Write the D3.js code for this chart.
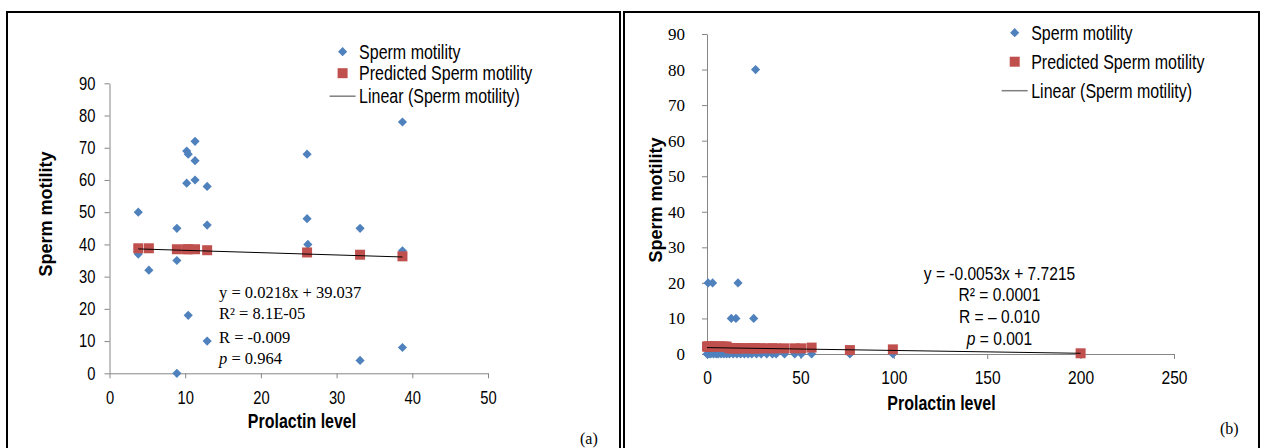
<!DOCTYPE html>
<html>
<head>
<meta charset="utf-8">
<script src="https://cdn.jsdelivr.net/npm/d3@7"></script>
<style>
body { margin: 0; background: #fff; }
svg { display: block; }
</style>
</head>
<body>
<svg width="1263" height="448"></svg>
<script>
// panel (a) - sperm motility vs prolactin
var xA = [3.8, 3.8, 5.2, 8.9, 8.9, 8.9, 10.2, 10.4, 10.2, 10.4, 11.3, 11.3, 11.3, 12.9, 12.9, 12.9, 26.1, 26.1, 26.2, 33.1, 33.1, 38.7, 38.7, 38.7];
var yA = [50, 37, 32, 45, 35, 0, 69, 68, 59, 18, 72, 66, 60, 58, 46, 10, 68, 48, 40, 45, 4, 78, 38, 8];
var predXA = [3.8, 5.2, 8.9, 10.2, 10.4, 11.3, 12.9, 26.1, 33.1, 38.7];
var predYA = [38.8, 38.8, 38.5, 38.5, 38.5, 38.5, 38.2, 37.5, 36.8, 36.3];
var trendA = [[3.8, 38.6], [38.7, 36.1]];
var eqA = ["y = 0.0218x + 39.037", "R² = 8.1E-05", "R = -0.009", "= 0.964"];
var xTicksA = [0, 10, 20, 30, 40, 50];

// panel (b)
var xB = [26, 0.6, 3, 16.6, 13, 15.5, 25,
  0, 1, 2, 3.5, 5, 6, 7.5, 9, 10.5, 12, 14, 16, 18, 20, 22, 24, 26.5, 29, 32, 35, 37, 41.5, 47, 50.5, 56, 76.5, 99.5, 200];
var yB = [80, 20, 20, 20, 10, 10, 10,
  0, 0, 0, 0, 0, 0, 0, 0, 0, 0, 0, 0, 0, 0, 0, 0, 0, 0, 0, 0, 0, 0, 0, 0, 0, 0, 0, 0];
var predXB = [0, 0.6, 1, 2, 3, 3.5, 5, 6, 7.5, 9, 10.5,
  12, 13, 14, 15.5, 16, 16.6, 18, 20, 22, 24, 25, 26, 26.5, 29, 32, 35, 37, 41.5, 47, 50.5,
  56, 76.5, 99.5, 200];
var predYB = [2.1, 2.1, 2.1, 2.1, 2.1, 2.1, 2.1, 2.1, 2.1, 2.1, 2.1,
  1.6, 1.6, 1.6, 1.6, 1.6, 1.6, 1.6, 1.6, 1.6, 1.6, 1.6, 1.6, 1.6, 1.6, 1.6, 1.6, 1.6, 1.6, 1.6, 1.6,
  1.8, 1.1, 1.3, 0.2];
var trendB = [[0, 1.8], [200, 0.2]];
var eqB = ["y = -0.0053x + 7.7215", "R² = 0.0001", "R = – 0.010", "= 0.001"];
var xTicksB = [0, 50, 100, 150, 200, 250];

var yTicks = [0, 10, 20, 30, 40, 50, 60, 70, 80, 90];
var legendLabels = ["Sperm motility", "Predicted Sperm motility", "Linear (Sperm motility)"];
var xTitle = "Prolactin level";
var yTitle = "Sperm motility";

var blue = "#4F81BD", red = "#C0504D", axisCol = "#868686";
var sans = "'Liberation Sans', Arial, sans-serif";
var serif = "'Liberation Serif', 'Times New Roman', serif";
var nk = 0.82; // horizontal squeeze to fake Arial Narrow

var svg = d3.select("svg");

// panel frames
function frame(x0, x1) {
  svg.append("path")
    .attr("d", `M${x0},460 V12 H${x1} V460`)
    .attr("fill", "none").attr("stroke", "#000").attr("stroke-width", 2);
}
frame(7, 620);
frame(624, 1259);

// narrow text at (x,y)
function narrowText(g, x, y, size, txt) {
  return g.append("text")
    .attr("transform", `translate(${x},${y}) scale(${nk},1)`)
    .style("font-family", sans).style("font-size", size + "px")
    .text(txt);
}

var diamond = d3.symbol().type(d3.symbolSquare).size(42);
var square = d3.symbol().type(d3.symbolSquare).size(100);

function makePanel(p) {
  var x = d3.scaleLinear().domain(p.xDomain).range(p.xRange);
  var y = d3.scaleLinear().domain([0, 90]).range(p.yRange);

  var yAxis = svg.append("g")
    .attr("transform", `translate(${p.xRange[0]},0)`)
    .call(d3.axisLeft(y).tickValues(yTicks).tickSize(5).tickSizeOuter(0).tickPadding(p.yPad));
  var xAxis = svg.append("g")
    .attr("transform", `translate(0,${p.yRange[0]})`)
    .call(d3.axisBottom(x).tickValues(p.xTicks).tickSize(5).tickSizeOuter(0).tickPadding(p.xPad));

  [xAxis, yAxis].forEach(a => {
    a.select(".domain").attr("stroke", axisCol);
    a.selectAll(".tick line").attr("stroke", axisCol);
    a.selectAll(".tick text").attr("fill", "#000");
  });
  if (p.yNarrow) {
    yAxis.selectAll(".tick text")
      .style("font-family", sans).style("font-size", p.yFontSize + "px")
      .attr("x", -(5 + p.yPad) / nk)
      .attr("transform", `scale(${nk},1)`);
  } else {
    yAxis.selectAll(".tick text").style("font-family", serif).style("font-size", p.yFontSize + "px");
  }
  xAxis.selectAll(".tick text")
    .style("font-family", sans).style("font-size", p.xFontSize + "px")
    .attr("transform", `scale(${nk},1)`);

  // observed
  svg.append("g").selectAll("path")
    .data(p.xs.map((v, i) => [v, p.ys[i]]))
    .enter().append("path")
    .attr("d", diamond)
    .attr("transform", d => `translate(${x(d[0])},${y(d[1])}) rotate(45)`)
    .attr("fill", blue);

  // predicted
  svg.append("g").selectAll("path")
    .data(p.px.map((v, i) => [v, p.py[i]]))
    .enter().append("path")
    .attr("d", square)
    .attr("transform", d => `translate(${x(d[0])},${y(d[1])})`)
    .attr("fill", red);

  svg.append("path")
    .attr("d", d3.line().x(d => x(d[0])).y(d => y(d[1]))(p.trend))
    .attr("stroke", "#000").attr("stroke-width", 1).attr("fill", "none");

  // axis titles
  svg.append("text")
    .attr("transform", `translate(${p.yTitlePos[0]},${p.yTitlePos[1]}) rotate(-90)`)
    .attr("text-anchor", "middle")
    .style("font-family", sans).style("font-weight", "bold").style("font-size", "18px")
    .text(yTitle);
  narrowText(svg, p.xTitlePos[0], p.xTitlePos[1], 19.5, xTitle)
    .attr("text-anchor", "middle").style("font-weight", "bold");

  // legend
  var lg = svg.append("g").attr("transform", `translate(${p.legend[0]},${p.legend[1]})`);
  var rows = [0, p.legendGap[0], p.legendGap[1]];
  lg.append("path").attr("d", diamond).attr("transform", "rotate(45)").attr("fill", blue);
  lg.append("path").attr("d", square).attr("transform", `translate(0,${rows[1]})`).attr("fill", red);
  lg.append("line").attr("x1", -13).attr("x2", 13).attr("y1", rows[2]).attr("y2", rows[2])
    .attr("stroke", "#7f7f7f").attr("stroke-width", 1.5);
  legendLabels.forEach((d, i) => narrowText(lg, 16.5, rows[i] + 7, 19.5, d));

  // equation block
  p.eq.forEach((s, i) => {
    var t;
    if (p.eqNarrow) {
      t = narrowText(svg, p.eqPos[0], p.eqPos[1] + p.eqStep[i], p.eqSize, null);
    } else {
      t = svg.append("text").attr("x", p.eqPos[0]).attr("y", p.eqPos[1] + p.eqStep[i])
        .style("font-family", serif).style("font-size", p.eqSize + "px");
    }
    t.attr("text-anchor", p.eqAnchor);
    if (i == 3) {
      t.append("tspan").style("font-style", "italic").text("p");
      t.append("tspan").text(" " + s);
    } else {
      t.text(s);
    }
  });

  svg.append("text")
    .attr("x", p.tag[0]).attr("y", p.tag[1])
    .style("font-family", serif).style("font-size", "16px")
    .text(p.tagText);
}

makePanel({
  xDomain: [0, 50], xRange: [109.5, 488], yRange: [373.3, 83.3],
  xTicks: xTicksA, yPad: 9, xPad: 13, yNarrow: true, yFontSize: 18, xFontSize: 18,
  xs: xA, ys: yA, px: predXA, py: predYA, trend: trendA,
  yTitlePos: [52, 214], xTitlePos: [302, 428],
  legend: [342.6, 51.7], legendGap: [21.5, 44.5],
  eq: eqA, eqNarrow: false, eqSize: 16.5, eqPos: [219, 298], eqStep: [0, 21, 44.5, 65.5], eqAnchor: "start",
  tag: [580, 444], tagText: "(a)"
});

makePanel({
  xDomain: [0, 250], xRange: [707, 1174], yRange: [354, 34],
  xTicks: xTicksB, yPad: 17, xPad: 12, yNarrow: false, yFontSize: 17, xFontSize: 19,
  xs: xB, ys: yB, px: predXB, py: predYB, trend: trendB,
  yTitlePos: [661.5, 200], xTitlePos: [941.5, 410],
  legend: [1014.7, 32.7], legendGap: [29, 58],
  eq: eqB, eqNarrow: true, eqSize: 19, eqPos: [999.5, 280], eqStep: [0, 20.7, 43.3, 65], eqAnchor: "middle",
  tag: [1220, 434], tagText: "(b)"
});
</script>
</body>
</html>
